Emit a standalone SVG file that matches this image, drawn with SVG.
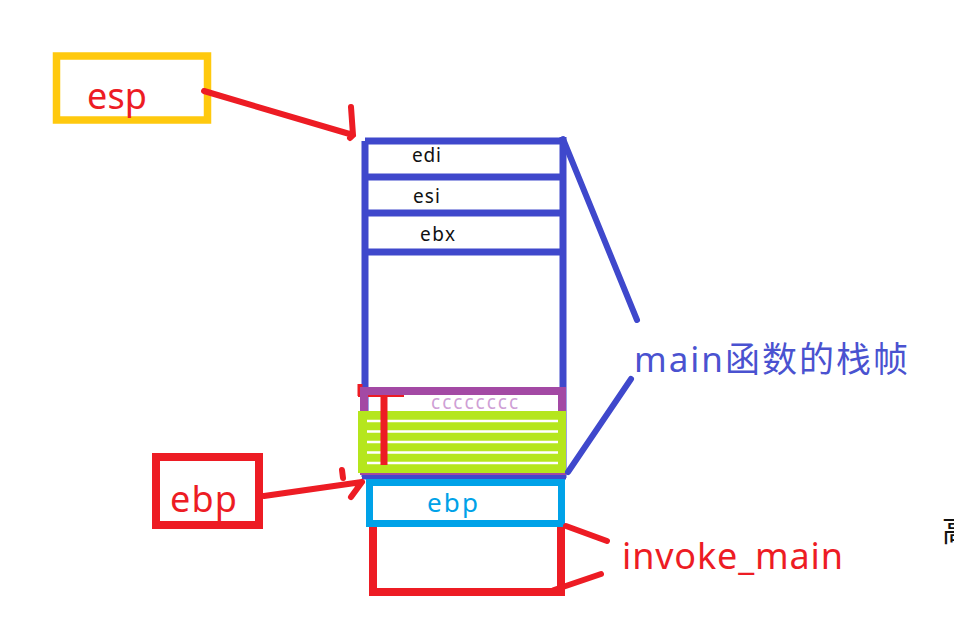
<svg xmlns="http://www.w3.org/2000/svg" width="954" height="644" viewBox="0 0 954 644">
<style>
.t{font-family:"Noto Sans","Noto Sans CJK SC",sans-serif}
.red{fill:#ed1c24}
.blk{fill:#111;font-size:19px}
.bl{stroke:#3f48cc;fill:none;stroke-width:7}
.rl{stroke:#ed1c24;fill:none;stroke-width:6;stroke-linecap:round}
</style>
<rect width="954" height="644" fill="#fff"/>
<g id="stack">
  <path class="bl" d="M365 141 H563 M365 177 H563 M365 213 H563 M365 252 H563 M365 141 V477 M563 137 V478 M362 476 H566"/>
  <text class="t blk" x="412" y="162" textLength="29">edi</text>
  <text class="t blk" x="413" y="203" textLength="27">esi</text>
  <text class="t blk" x="420" y="241" textLength="35">ebx</text>
</g>
<g id="locals">
  <path d="M358 394.5 H404 M360 384 V396" stroke="#ed1c24" stroke-width="5" fill="none"/>
  <rect x="364" y="391" width="198" height="80" fill="none" stroke="#a349a4" stroke-width="8"/>
  <text class="t" x="431" y="409" font-size="19" fill="#cf9fd6" textLength="87">cccccccc</text>
  <rect x="358" y="411" width="208" height="62" fill="#b5e61d"/>
  <path d="M367 421 H558 M367 431.5 H558 M367 442 H558 M367 452.5 H558 M367 463 H558" stroke="#fff" stroke-width="2.5"/>
  <path d="M384 395 V465" stroke="#ed1c24" stroke-width="7" fill="none"/>
</g>
<g id="ebp-slot">
  <rect x="369.5" y="482.5" width="192" height="41" fill="none" stroke="#00a2e8" stroke-width="7"/>
  <text class="t" x="427" y="512" font-size="26" fill="#00a2e8" textLength="51">ebp</text>
</g>
<g id="invoke-frame">
  <path d="M373 527 V592 H561 V527" fill="none" stroke="#ed1c24" stroke-width="8"/>
</g>
<g id="esp">
  <rect x="56.5" y="56" width="151" height="64" fill="none" stroke="#ffc90e" stroke-width="7.5"/>
  <text class="t red" x="87" y="109" font-size="36" textLength="60">esp</text>
</g>
<g id="ebp">
  <rect x="156" y="457" width="103" height="68" fill="none" stroke="#ed1c24" stroke-width="8"/>
  <text class="t red" x="170" y="512" font-size="36" textLength="67">ebp</text>
</g>
<g id="main-label">
  <text class="t" x="634" y="372" font-size="35" fill="#4a52d0" textLength="274">main函数的栈帧</text>
</g>
<g id="invoke-label">
  <text class="t red" x="622" y="569" font-size="36" textLength="221">invoke_main</text>
</g>
<g id="edge-char">
  <text x="942" y="541" font-size="30" fill="#111" font-family="Noto Sans CJK SC, sans-serif">高</text>
</g>
<g id="connectors">
  <path class="rl" d="M204 91 L353 135 M351 107 L353 135 L350 138"/>
  <path class="rl" d="M264 496 L362 482 M342 470 L343 478 M362 482 L351 497"/>
  <path d="M563 139 L637 320 M568 472 L631 379" stroke="#3f48cc" stroke-width="6" fill="none" stroke-linecap="round"/>
  <path class="rl" d="M566 526 L607 541 M554 590 L601 574"/>
</g>
</svg>
